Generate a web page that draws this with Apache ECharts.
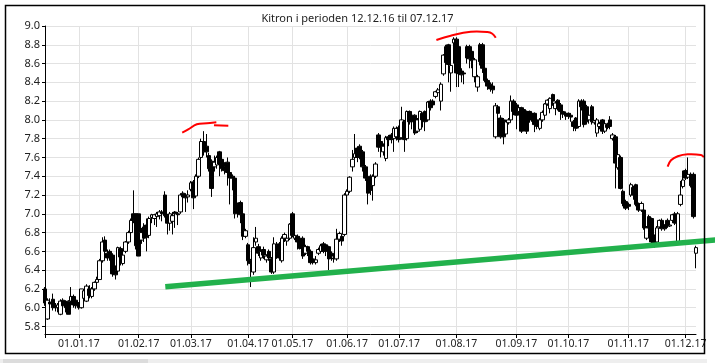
<!DOCTYPE html>
<html><head><meta charset="utf-8">
<script src="https://cdn.jsdelivr.net/npm/echarts@6/dist/echarts.min.js"></script>
<style>html,body{margin:0;padding:0;background:#fff;}#c{width:715px;height:363px;}</style>
</head><body><div id="c"></div>
<script>
// ---- Data ----
const titleText = 'Kitron i perioden 12.12.16 til 07.12.17';
const startDate = '2016-12-12', endDate = '2017-12-07';
const holidays = ['2016-12-26','2017-04-13','2017-04-14','2017-04-17','2017-05-01','2017-05-17','2017-05-25','2017-06-05'];
const monthStarts = ['2017-01-01','2017-02-01','2017-03-01','2017-04-01','2017-05-01','2017-06-01','2017-07-01','2017-08-01','2017-09-01','2017-10-01','2017-11-01','2017-12-01'];
const monthLabels = ['01.01.17','01.02.17','01.03.17','01.04.17','01.05.17','01.06.17','01.07.17','01.08.17','01.09.17','01.10.17','01.11.17','01.12.17'];
const yTicks = [5.8,6.0,6.2,6.4,6.6,6.8,7.0,7.2,7.4,7.6,7.8,8.0,8.2,8.4,8.6,8.8,9.0];

// [open, close, low, high]
const dec16 = [[6.20,6.05,6.02,6.22],[5.88,6.08,5.87,6.10],[6.06,6.04,5.98,6.10],[6.09,6.00,5.97,6.15],[6.02,6.00,5.96,6.05],[6.00,6.03,5.95,6.05],[5.93,6.07,5.92,6.09],[6.08,6.02,5.98,6.10],[6.06,6.00,5.95,6.08],[6.07,5.93,5.93,6.08],[6.07,6.12,6.05,6.22],[6.12,6.03,6.00,6.14],[6.08,6.02,5.99,6.10],[6.05,6.00,5.98,6.06]];
const jan17 = [[6.00,6.20,5.99,6.20],[6.10,6.18,6.08,6.20],[6.07,6.23,6.06,6.25],[6.20,6.13,6.10,6.24],[6.12,6.20,6.10,6.22],[6.20,6.27,6.18,6.28],[6.27,6.30,6.25,6.33],[6.30,6.50,6.30,6.52],[6.50,6.70,6.48,6.75],[6.72,6.60,6.58,6.76],[6.58,6.53,6.50,6.62],[6.60,6.55,6.50,6.62],[6.56,6.36,6.33,6.58],[6.40,6.35,6.30,6.45],[6.39,6.64,6.38,6.65],[6.63,6.54,6.45,6.65],[6.47,6.56,6.45,6.60],[6.60,6.70,6.58,6.71],[6.70,6.80,6.68,6.82],[6.80,6.93,6.78,6.95],[7.00,6.93,6.90,7.25],[7.00,6.66,6.62,7.00]];
const feb17 = [[7.00,6.55,6.55,7.00],[6.72,6.80,6.68,6.85],[6.86,6.74,6.70,6.90],[6.88,6.75,6.60,6.95],[6.77,6.95,6.74,6.97],[6.96,6.99,6.90,7.00],[6.95,6.99,6.88,7.00],[6.97,7.00,6.86,7.02],[6.98,7.02,6.94,7.04],[7.02,7.00,6.92,7.04],[7.20,6.98,6.96,7.24],[6.98,6.90,6.78,7.00],[6.90,7.00,6.82,7.02],[6.92,6.98,6.78,7.02],[7.02,7.00,6.85,7.03],[7.00,6.99,6.88,7.02],[7.02,7.20,7.00,7.22],[7.22,7.18,7.10,7.24],[7.20,7.17,7.02,7.22],[7.18,7.20,7.12,7.25]];
const mar17 = [[7.26,7.33,7.24,7.35],[7.34,7.17,7.05,7.36],[7.19,7.40,7.18,7.42],[7.40,7.58,7.38,7.60],[7.60,7.77,7.58,7.80],[7.77,7.66,7.62,7.88],[7.72,7.66,7.60,7.85],[7.62,7.48,7.45,7.65],[7.56,7.27,7.18,7.58],[7.50,7.55,7.45,7.62],[7.52,7.60,7.48,7.62],[7.66,7.53,7.40,7.67],[7.58,7.48,7.45,7.60],[7.50,7.46,7.42,7.55],[7.55,7.44,7.30,7.60],[7.44,7.38,7.10,7.46],[7.40,7.38,7.25,7.42],[7.38,7.00,6.95,7.40],[7.10,7.02,6.96,7.12],[7.12,6.99,6.90,7.14],[7.00,6.76,6.72,7.02],[6.76,6.82,6.74,6.84],[6.67,6.50,6.45,6.69]];
const apr17 = [[6.50,6.47,6.22,6.52],[6.38,6.64,6.35,6.75],[6.70,6.74,6.66,6.86],[6.65,6.58,6.55,6.68],[6.53,6.60,6.50,6.62],[6.62,6.56,6.52,6.65],[6.51,6.55,6.48,6.57],[6.60,6.53,6.50,6.62],[6.52,6.38,6.36,6.54],[6.38,6.68,6.36,6.75],[6.66,6.60,6.52,6.70],[6.68,6.53,6.50,6.70],[6.50,6.74,6.48,6.76],[6.74,6.78,6.70,6.80],[6.71,6.74,6.66,6.76],[6.74,6.89,6.72,6.90],[7.00,6.77,6.75,7.02]];
const may17 = [[6.74,6.77,6.72,6.79],[6.76,6.70,6.62,6.78],[6.74,6.63,6.62,6.76],[6.74,6.55,6.52,6.76],[6.58,6.65,6.56,6.67],[6.65,6.60,6.55,6.66],[6.60,6.48,6.46,6.62],[6.52,6.48,6.46,6.54],[6.48,6.51,6.46,6.55],[6.58,6.62,6.56,6.64],[6.60,6.66,6.58,6.68],[6.68,6.60,6.58,6.70],[6.67,6.60,6.55,6.68],[6.65,6.52,6.40,6.66],[6.58,6.55,6.50,6.60],[6.53,6.52,6.48,6.55],[6.52,6.73,6.50,6.84],[6.73,6.79,6.70,6.81],[6.76,6.71,6.66,6.78],[6.78,7.20,6.76,7.22]];
const jun17 = [[7.20,7.24,7.18,7.26],[7.24,7.39,7.22,7.40],[7.50,7.58,7.45,7.68],[7.60,7.64,7.58,7.85],[7.70,7.60,7.55,7.72],[7.72,7.62,7.58,7.74],[7.66,7.50,7.45,7.68],[7.50,7.38,7.35,7.52],[7.38,7.22,7.10,7.40],[7.40,7.25,7.20,7.42],[7.30,7.40,7.14,7.42],[7.40,7.53,7.38,7.55],[7.84,7.71,7.66,7.86],[7.77,7.71,7.60,7.80],[7.66,7.72,7.62,7.75],[7.59,7.81,7.56,7.83],[7.82,7.79,7.72,7.84],[7.84,7.79,7.75,7.86],[7.80,7.91,7.66,7.93],[7.82,7.91,7.78,7.93],[7.92,7.79,7.76,7.94]];
const jul17 = [[7.81,8.00,7.79,8.14],[7.98,7.79,7.66,8.00],[7.80,8.09,7.78,8.10],[8.09,7.98,7.95,8.10],[8.05,7.98,7.90,8.06],[8.05,7.86,7.84,8.06],[7.88,8.00,7.86,8.02],[7.90,8.09,7.88,8.10],[8.07,8.00,7.92,8.08],[8.09,7.98,7.88,8.10],[8.00,8.19,7.98,8.20],[8.20,8.13,8.10,8.22],[8.20,8.16,8.14,8.22],[8.25,8.30,8.23,8.31],[8.29,8.32,8.27,8.34],[8.20,8.38,8.10,8.40],[8.49,8.69,8.47,8.70],[8.78,8.61,8.55,8.80],[8.80,8.59,8.40,8.81],[8.50,8.58,8.30,8.60],[8.82,8.86,8.60,8.88]];
const aug17 = [[8.86,8.50,8.35,8.88],[8.78,8.49,8.35,8.80],[8.52,8.48,8.40,8.55],[8.50,8.49,8.38,8.52],[8.78,8.66,8.60,8.80],[8.78,8.65,8.55,8.80],[8.73,8.63,8.55,8.75],[8.46,8.64,8.40,8.66],[8.35,8.46,8.30,8.48],[8.80,8.62,8.58,8.82],[8.80,8.55,8.50,8.82],[8.55,8.42,8.40,8.57],[8.42,8.36,8.32,8.44],[8.38,8.33,8.30,8.40],[8.36,8.32,8.28,8.40],[7.82,8.15,7.80,8.18],[8.14,8.07,8.02,8.16],[8.02,7.82,7.80,8.05],[8.00,7.82,7.74,8.02],[7.85,7.98,7.83,8.00],[7.97,8.00,7.95,8.02],[8.00,8.20,7.98,8.26],[8.20,8.09,8.05,8.22]];
const sep17 = [[8.16,8.05,7.90,8.18],[8.09,8.13,8.06,8.15],[8.13,7.88,7.86,8.14],[8.11,8.00,7.95,8.12],[8.09,7.88,7.85,8.10],[8.09,8.00,7.97,8.10],[8.07,8.02,7.98,8.08],[8.07,7.95,7.87,8.08],[8.00,7.93,7.90,8.02],[7.91,8.00,7.89,8.02],[8.00,8.08,7.98,8.10],[8.05,8.17,8.03,8.18],[8.17,8.21,8.15,8.22],[8.12,8.23,8.07,8.24],[8.27,8.20,8.15,8.28],[8.12,8.18,8.05,8.20],[8.21,8.12,8.10,8.22],[8.16,8.09,8.00,8.18],[8.09,8.06,8.02,8.10],[8.07,8.04,8.00,8.09],[8.07,8.04,8.01,8.08]];
const oct17 = [[8.05,8.03,7.98,8.07],[7.98,7.93,7.88,8.00],[8.02,7.91,7.88,8.03],[7.93,8.20,7.91,8.22],[8.20,8.14,8.10,8.22],[8.20,7.95,7.92,8.22],[8.14,7.98,7.95,8.16],[8.00,8.05,7.96,8.07],[8.14,7.98,7.95,8.16],[7.97,7.99,7.95,8.00],[7.86,8.00,7.82,8.02],[7.93,7.96,7.90,7.98],[8.00,7.88,7.85,8.01],[7.88,7.96,7.86,7.98],[7.95,7.92,7.90,7.97],[8.00,7.93,7.90,8.04],[7.80,7.84,7.78,7.86],[7.82,7.54,7.27,7.84],[7.49,7.63,7.47,7.65],[7.60,7.27,7.26,7.62],[7.24,7.11,7.08,7.26],[7.13,7.06,7.04,7.15]];
const nov17 = [[7.10,7.08,7.04,7.12],[7.20,7.31,7.18,7.33],[7.28,7.20,7.15,7.30],[7.31,7.10,7.08,7.32],[7.11,7.04,7.02,7.12],[7.04,7.11,7.02,7.13],[7.04,6.85,6.83,7.06],[6.74,6.85,6.72,6.87],[6.97,6.85,6.83,6.99],[6.95,6.70,6.66,6.96],[6.76,6.69,6.64,6.78],[6.70,6.85,6.68,6.87],[6.86,6.93,6.84,6.94],[6.93,6.84,6.82,6.95],[6.87,6.84,6.82,6.89],[6.93,6.87,6.85,6.95],[6.87,6.88,6.86,6.90],[6.93,6.99,6.90,7.00],[7.00,6.90,6.88,7.02],[6.70,7.00,6.68,7.02],[7.10,7.20,7.08,7.35],[7.29,7.36,7.27,7.46]];
const dec17 = [[7.46,7.38,7.36,7.48],[7.39,7.42,7.37,7.60],[7.42,7.30,7.28,7.44],[7.42,6.97,6.95,7.44],[6.58,6.64,6.42,6.66]];

// hand-drawn annotations, in [trading-day index, price]
const greenTrend = [[46.2,6.224],[257.7,6.721]];
const redPeak1 = [[52.7,7.864],[55.0,7.898],[58.3,7.953],[62.2,7.964],[65.8,7.974]];
const redPeak1b = [[64.9,7.943],[70.4,7.938]];
const redPeak2 = [[150.3,8.851],[155.8,8.897],[163.5,8.939],[169.9,8.936],[171.8,8.918],[173.1,8.875]];
const redPeak3 = [[239.1,7.502],[240.4,7.570],[243.0,7.613],[246.8,7.634],[251.9,7.626],[253.0,7.602]];

// ---- Build ----
function tradingDays(start, end, hol){
  const out = []; const d = new Date(start+'T00:00:00Z'); const e = new Date(end+'T00:00:00Z');
  while (d <= e){
    const wd = d.getUTCDay(); const iso = d.toISOString().slice(0,10);
    if (wd !== 0 && wd !== 6 && hol.indexOf(iso) < 0) out.push(iso);
    d.setUTCDate(d.getUTCDate()+1);
  }
  return out;
}
const isoDays = tradingDays(startDate, endDate, holidays);
const categories = isoDays.map(s => s.slice(8,10)+'.'+s.slice(5,7)+'.'+s.slice(2,4));
const ohlc = [].concat(dec16,jan17,feb17,mar17,apr17,may17,jun17,jul17,aug17,sep17,oct17,nov17,dec17);
const labelAt = {};
monthStarts.forEach((m,k) => {
  let idx = 0;
  for (let i=0;i<isoDays.length;i++){ if (isoDays[i] <= m) idx = i; }
  labelAt[idx] = monthLabels[k];
});
const isTick = i => labelAt[i] !== undefined;
const FONT = 'Noto Sans';

const chart = echarts.init(document.getElementById('c'), null, {renderer:'canvas'});
chart.setOption({
  animation:false,
  title:{text:titleText, left:'center', top:8, textStyle:{fontFamily:FONT, fontSize:11, fontWeight:'normal', color:'#222'}},
  grid:{left:45, right:19, top:26, bottom:29, containLabel:false},
  xAxis:[{
    type:'category', data:categories, boundaryGap:false,
    axisLine:{lineStyle:{color:'#000', width:1}},
    axisTick:{show:true, interval:(i)=>isTick(i)||i===0, length:4, lineStyle:{color:'#000'}},
    axisLabel:{interval:(i)=>isTick(i), formatter:(v,i)=>labelAt[i]||'', fontFamily:FONT, fontSize:10.5, color:'#222', margin:5},
    splitLine:{show:true, interval:(i)=>isTick(i), lineStyle:{color:'#e2e2e2', width:1}}
  },{
    type:'value', min:0, max:categories.length-1, show:false
  }],
  yAxis:{
    type:'value', min:5.72, max:9.0, scale:true,
    axisLine:{show:true, lineStyle:{color:'#000', width:1}},
    axisTick:{show:true, length:3, customValues:yTicks, lineStyle:{color:'#000'}},
    axisLabel:{customValues:yTicks, formatter:v=>v.toFixed(1), fontFamily:FONT, fontSize:11, color:'#222', margin:5},
    splitLine:{show:true, lineStyle:{color:'#e2e2e2', width:1}}
  },
  series:[
    {type:'candlestick', data:ohlc, barWidth:4,
     itemStyle:{color:'#fff', color0:'#000', borderColor:'#000', borderColor0:'#000', borderColorDoji:'#000', borderWidth:1},
     emphasis:{disabled:true}, silent:true}
  ]
});

// annotations: project data points through the chart's own scales
function toPx(pts){
  return pts.map(p => chart.convertToPixel({xAxisIndex:1, yAxisIndex:0}, p));
}
function annLine(pts, color, width, smooth){
  return {type:'polyline', shape:{points:toPx(pts), smooth:smooth}, style:{stroke:color, lineWidth:width, fill:null, lineCap:'butt'}, silent:true, z:50};
}
chart.setOption({
  graphic:[
    annLine(greenTrend, '#22b14c', 5.5, 0),
    annLine(redPeak1, '#ff0000', 2, 0.4),
    annLine(redPeak1b, '#ff0000', 2, 0),
    annLine(redPeak2, '#ff0000', 2, 0.4),
    annLine(redPeak3, '#ff0000', 2, 0.4),
    {type:'rect', shape:{x:5.5, y:5.5, width:699, height:348}, style:{fill:null, stroke:'#000', lineWidth:1.5}, silent:true, z:100},
    {type:'rect', shape:{x:0, y:359, width:707, height:4}, style:{fill:'#eeeeee'}, silent:true},
    {type:'rect', shape:{x:3, y:359, width:145, height:4}, style:{fill:'#dcdcdc'}, silent:true}
  ]
});
</script>
</body></html>
